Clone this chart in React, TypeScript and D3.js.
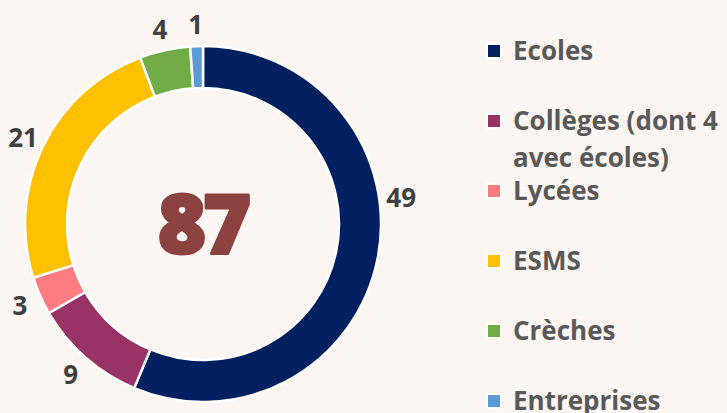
import React from "react";
import * as d3 from "d3";

const categories = ["Ecoles", "Collèges (dont 4 avec écoles)", "Lycées", "ESMS", "Crèches", "Entreprises"];
const legendLines = [["Ecoles"], ["Collèges (dont 4", "avec écoles)"], ["Lycées"], ["ESMS"], ["Crèches"], ["Entreprises"]];
const values = [49, 9, 3, 21, 4, 1];
const colors = ["#002060", "#993366", "#FF7C80", "#FFC000", "#70AD47", "#5B9BD5"];
const labelAngleShift = [-19, 0, 0, 0, 0, 0]; // degrees
const total = d3.sum(values);

const W = 727, H = 413;
const cx = 203, cy = 224, R = 178, r0 = 136, labelR = 200;

export default function App() {
  const pie = d3.pie<number>().sort(null).value((d) => d)(values);
  const arc = d3.arc<d3.PieArcDatum<number>>().innerRadius(r0).outerRadius(R);
  const legendY = d3.scalePoint<number>().domain(d3.range(values.length)).range([51, 401]);
  const font = "'Open Sans', Lato, sans-serif";
  return (
    <svg width={W} height={H} style={{ position: "absolute", left: 0, top: 0, display: "block" }}>
      <rect width={W} height={H} fill="#FDF6F3" />
      <g transform={`translate(${cx},${cy})`}>
        {pie.map((p, i) => (
          <path key={i} d={arc(p) || ""} fill={colors[i]} stroke="#FFFFFF" strokeWidth={2.5} />
        ))}
        {pie.map((p, i) => {
          const a = (p.startAngle + p.endAngle) / 2 + (labelAngleShift[i] * Math.PI) / 180;
          return (
            <text key={i} x={labelR * Math.sin(a)} y={-labelR * Math.cos(a)} textAnchor="middle" dominantBaseline="central"
              fontFamily={font} fontWeight={700} fontSize={26} fill="#404040">
              {values[i]}
            </text>
          );
        })}
        <text x={0} y={0} dy={29} textAnchor="middle" fontFamily={font} fontWeight={800} fontSize={82}
          fill="#8B4240" stroke="#8B4240" strokeWidth={3} strokeLinejoin="round" letterSpacing={-3}>
          {total}
        </text>
      </g>
      {legendLines.map((lines, i) => (
        <g key={i} transform={`translate(486,${legendY(i)})`}>
          <rect x={1} y={-7} width={14} height={14} fill={colors[i]} stroke="#FFFFFF" strokeWidth={2} />
          <text x={27} y={0} fontFamily={font} fontWeight={700} fontSize={26} fill="#595959">
            {lines.map((l, j) => (
              <tspan key={j} x={27} dy={j === 0 ? 9 : 37}>{l}</tspan>
            ))}
          </text>
        </g>
      ))}
    </svg>
  );
}
